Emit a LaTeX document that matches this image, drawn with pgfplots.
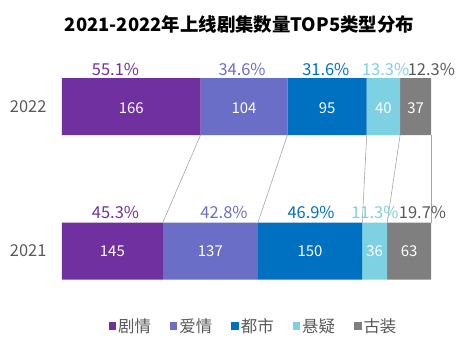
\documentclass[border=0pt]{standalone}
\usepackage{fontspec}
\setmainfont{Noto Sans CJK SC}
\usepackage{pgfplots}
\pgfplotsset{compat=1.18}
\definecolor{c1}{RGB}{112,48,160}
\definecolor{c2}{RGB}{106,110,198}
\definecolor{c3}{RGB}{0,112,192}
\definecolor{c4}{RGB}{126,208,227}
\definecolor{c5}{RGB}{127,127,127}
\definecolor{gray59}{RGB}{89,89,89}
\definecolor{linegray}{RGB}{166,166,166}
\begin{document}
\begin{tikzpicture}
\path[use as bounding box] (-62bp,-66.65bp) rectangle (397bp,294.35bp);
\pgfplotsset{common/.style={at={(0,0)}, anchor=south west, scale only axis,
  width=369bp, height=238.4bp, xmin=0, xmax=100, ymin=-0.3, ymax=1.35}}
\begin{axis}[common,
  xbar stacked, bar width=57bp,
  xtick=\empty, ytick={0,1}, yticklabels={2021,2022},
  axis line style={draw=none}, major tick length=0pt,
  yticklabel style={font=\fontsize{16.5}{16.5}\selectfont, text=gray59, xshift=-12bp},
  legend columns=5,
  legend image code/.code={\fill[#1] (0bp,-3.75bp) rectangle (7.5bp,3.75bp);},
  legend style={at={(0.519,-0.1328)}, anchor=center, draw=none, fill=none,
    font=\fontsize{16.5}{16.5}\selectfont, text=gray59, inner sep=0pt,
    /tikz/every even column/.append style={column sep=17bp}},
  legend cell align=left,
]
\addplot[fill=c1, draw=none] coordinates {(27.307,0) (37.557,1)};
\addplot[fill=c2, draw=none] coordinates {(25.800,0) (23.529,1)};
\addplot[fill=c3, draw=none] coordinates {(28.249,0) (21.493,1)};
\addplot[fill=c4, draw=none] coordinates {(6.780,0) (9.050,1)};
\addplot[fill=c5, draw=none] coordinates {(11.864,0) (8.371,1)};
\legend{剧情,爱情,都市,悬疑,古装}
\end{axis}
\begin{axis}[common, hide axis, clip=false,
  every node near coord/.append style={anchor=base, inner sep=0pt}]
% connector lines
\addplot[linegray, line width=0.6pt] coordinates {(37.557,0.803) (27.307,0.197)};
\addplot[linegray, line width=0.6pt] coordinates {(61.086,0.803) (53.107,0.197)};
\addplot[linegray, line width=0.6pt] coordinates {(82.579,0.803) (81.356,0.197)};
\addplot[linegray, line width=0.6pt] coordinates {(91.629,0.803) (88.136,0.197)};
\addplot[linegray, line width=0.6pt] coordinates {(100,0.803) (100,0.197)};
% value labels
\addplot[draw=none, mark=none, nodes near coords, point meta=explicit symbolic,
  nodes near coords style={text=white, font=\fontsize{15}{15}\selectfont}]
  coordinates {(18.778,0.955)[166] (49.321,0.955)[104] (71.833,0.955)[95] (87.104,0.955)[40] (95.814,0.955)[37]
               (13.653,-0.04)[145] (40.207,-0.04)[137] (67.232,-0.04)[150] (84.746,-0.04)[36] (94.068,-0.04)[63]};
% percentage labels
\addplot[draw=none, mark=none, nodes near coords, point meta=explicit symbolic,
  nodes near coords style={text=c1, font=\fontsize{16.5}{16.5}\selectfont}]
  coordinates {(14.5,1.218)[55.1\%] (14.5,0.226)[45.3\%]};
\addplot[draw=none, mark=none, nodes near coords, point meta=explicit symbolic,
  nodes near coords style={text=c2, font=\fontsize{16.5}{16.5}\selectfont}]
  coordinates {(48.8,1.218)[34.6\%] (43.9,0.226)[42.8\%]};
\addplot[draw=none, mark=none, nodes near coords, point meta=explicit symbolic,
  nodes near coords style={text=c3, font=\fontsize{16.5}{16.5}\selectfont}]
  coordinates {(71.5,1.218)[31.6\%] (67.5,0.226)[46.9\%]};
\addplot[draw=none, mark=none, nodes near coords, point meta=explicit symbolic,
  nodes near coords style={text=c4, font=\fontsize{16.5}{16.5}\selectfont}]
  coordinates {(87.7,1.218)[13.3\%] (84.8,0.226)[11.3\%]};
\addplot[draw=none, mark=none, nodes near coords, point meta=explicit symbolic,
  nodes near coords style={text=gray59, font=\fontsize{16.5}{16.5}\selectfont}]
  coordinates {(100.1,1.218)[12.3\%] (97.7,0.226)[19.7\%]};
\end{axis}
\node[anchor=base, font=\fontsize{18.5}{18.5}\selectfont\bfseries] at (177.5bp,262.7bp) {2021-2022年上线剧集数量TOP5类型分布};
\end{tikzpicture}
\end{document}
